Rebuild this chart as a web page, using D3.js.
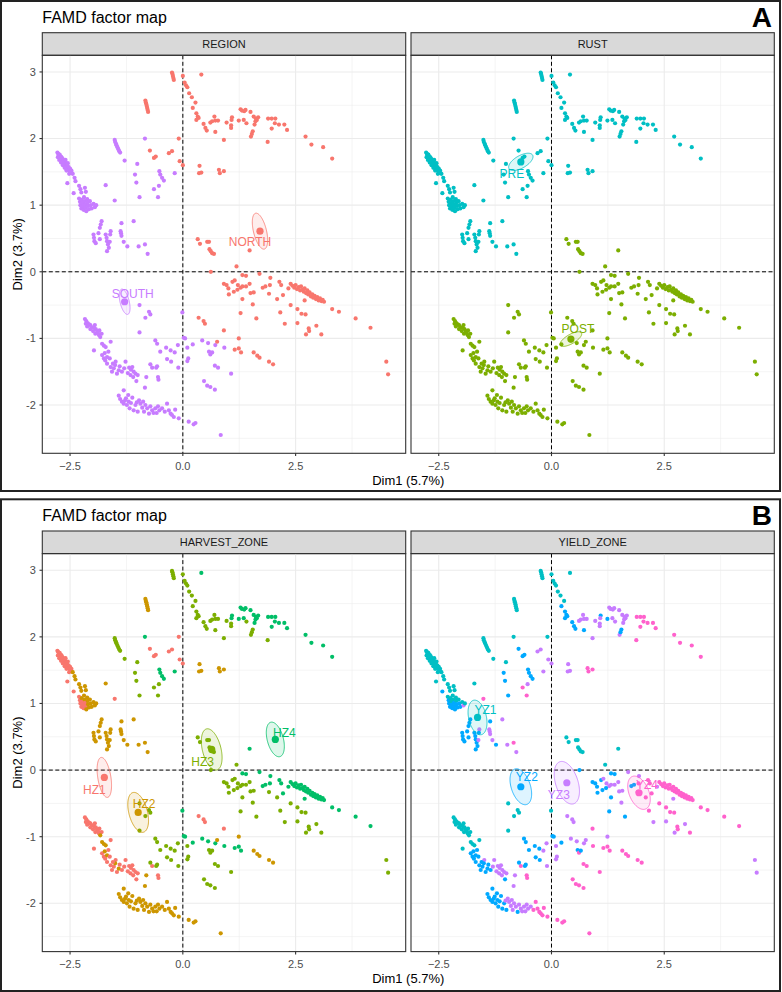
<!DOCTYPE html>
<html><head><meta charset="utf-8">
<script src="https://cdn.jsdelivr.net/npm/d3@7"></script>
<style>body{margin:0;background:#fff}svg text{font-family:"Liberation Sans",Arial,sans-serif}</style>
</head><body><svg id="c" width="782" height="992"></svg>
<script>
// ---------- DATA ----------
const N = "NORTH", S = "SOUTH", PR = "PRE", PO = "POST";
// each row: [Dim1, Dim2, REGION, RUST, HARVEST_ZONE #, YIELD_ZONE #]
const upperLeftArm = [
[-2.78,1.79,S,PR,1,1],[-2.76,1.77,S,PR,1,1],[-2.75,1.74,S,PR,1,1],[-2.73,1.76,S,PR,1,1],[-2.72,1.72,S,PR,1,1],[-2.71,1.70,S,PR,1,1],[-2.70,1.73,S,PR,1,1],[-2.69,1.68,S,PR,1,1],[-2.68,1.71,S,PR,1,1],[-2.67,1.66,S,PR,1,1],[-2.66,1.69,S,PR,1,1],[-2.65,1.64,S,PR,1,1],[-2.64,1.67,S,PR,1,1],[-2.63,1.62,S,PR,1,1],[-2.62,1.65,S,PR,1,1],[-2.61,1.60,S,PR,1,1],[-2.60,1.63,S,PR,1,1],[-2.59,1.58,S,PR,1,1],[-2.58,1.61,S,PR,1,1],[-2.57,1.56,S,PR,1,1],[-2.56,1.59,S,PR,1,1],[-2.55,1.54,S,PR,1,1],[-2.53,1.57,S,PR,1,1],[-2.52,1.52,S,PR,1,1],[-2.50,1.55,S,PR,1,1],[-2.49,1.50,S,PR,1,1],[-2.47,1.52,S,PR,1,1],[-2.46,1.48,S,PR,1,1],
[-2.77,1.72,S,PR,1,1],[-2.74,1.68,S,PR,1,1],[-2.70,1.64,S,PR,1,1],[-2.66,1.60,S,PR,1,1],[-2.62,1.56,S,PR,1,1],[-2.58,1.52,S,PR,1,1],[-2.52,1.47,S,PR,1,1],[-2.60,1.68,S,PR,1,1],[-2.55,1.63,S,PR,1,1],
[-2.56,1.33,S,PR,1,1],[-2.42,1.18,S,PR,1,2],
[-2.44,1.47,S,PR,2,1],[-2.40,1.41,S,PR,2,1],[-2.38,1.36,S,PR,2,1],[-2.30,1.29,S,PR,2,1],[-2.27,1.24,S,PR,2,1],[-2.25,1.19,S,PR,2,1],[-2.17,1.26,S,PR,2,1],[-2.15,1.20,S,PR,2,1]
];
const upperLeftClump = [
[-2.30,1.10,S,PR,1,1],[-2.28,1.05,S,PR,1,2],[-2.27,1.00,S,PR,1,2],[-2.25,0.95,S,PR,1,2],[-2.24,1.08,S,PR,2,1],[-2.22,1.03,S,PR,1,1],[-2.21,0.98,S,PR,1,2],[-2.20,0.93,S,PR,1,2],[-2.19,1.12,S,PR,2,1],[-2.18,1.06,S,PR,2,1],[-2.16,1.01,S,PR,1,2],[-2.15,0.96,S,PR,1,2],[-2.14,0.91,S,PR,2,2],[-2.12,1.09,S,PR,2,1],[-2.11,1.04,S,PR,2,1],[-2.10,0.99,S,PR,2,2],[-2.08,0.94,S,PR,2,2],[-2.06,1.06,S,PR,2,1],[-2.04,1.00,S,PR,2,2],[-2.02,0.95,S,PR,2,2],[-1.98,1.02,S,PR,2,1],[-1.95,0.97,S,PR,2,3],[-1.92,1.00,S,PR,2,1]
];
const midLeftArms = [
[-1.51,1.98,S,PR,3,1],[-1.50,1.95,S,PR,3,1],[-1.48,1.92,S,PR,3,1],[-1.47,1.90,S,PR,3,1],[-1.45,1.87,S,PR,3,1],[-1.43,1.84,S,PR,3,1],[-1.41,1.81,S,PR,3,1],[-1.39,1.79,S,PR,3,1],[-1.29,1.67,S,PR,3,1],
[-1.71,1.30,S,PR,2,1],[-1.51,1.07,S,PR,1,4]
];
const topArc = [
[-0.83,2.57,N,PR,2,1],[-0.82,2.54,N,PR,2,1],[-0.81,2.52,N,PR,2,1],[-0.80,2.49,N,PR,2,1],[-0.79,2.46,N,PR,2,1],[-0.78,2.43,N,PR,2,1],[-0.77,2.40,N,PR,2,1],
[-0.24,2.99,N,PR,3,1],[-0.23,2.97,N,PR,3,1],[-0.22,2.94,N,PR,3,1],[-0.21,2.91,N,PR,3,1],[-0.20,2.88,N,PR,3,1],
[0.41,2.96,N,PR,4,1],
[0.00,2.94,N,PR,3,1],[0.04,2.84,N,PR,3,1],[0.07,2.80,N,PR,3,1],[0.10,2.77,N,PR,3,1],[0.14,2.68,N,PR,3,1],[0.20,2.62,N,PR,3,1],[0.28,2.54,N,PR,3,1],[0.22,2.46,N,PR,3,2],[0.30,2.38,N,PR,3,2],[0.33,2.33,N,PR,3,2],[0.30,2.28,N,PR,3,2],[0.35,2.31,N,PR,3,2],
[0.46,2.22,N,PR,3,2],[0.50,2.16,N,PR,3,2],[0.53,2.12,N,PR,3,2],[0.61,2.24,N,PR,3,3],[0.65,2.26,N,PR,3,3],[0.70,2.33,N,PR,3,3],[0.72,2.27,N,PR,3,3],[0.78,2.27,N,PR,3,3],[0.72,2.10,N,PR,3,2],[0.91,1.98,N,PR,3,3]
];
const upperRight = [
[1.09,2.32,N,PR,4,2],[1.08,2.28,N,PR,4,3],[1.28,2.44,N,PR,4,3],[1.31,2.42,N,PR,4,3],[1.36,2.41,N,PR,4,3],[1.39,2.43,N,PR,4,3],[1.50,2.40,N,PR,4,3],[1.24,2.27,N,PR,4,2],[1.35,2.28,N,PR,4,3],[1.57,2.33,N,PR,4,3],[1.61,2.26,N,PR,4,3],[1.64,2.28,N,PR,4,3],[1.59,2.21,N,PR,4,3],[1.67,2.32,N,PR,4,3],[1.62,2.30,N,PR,4,3],
[0.97,2.24,N,PR,3,3],[1.07,2.20,N,PR,3,3],[1.07,2.16,N,PR,3,3],[1.55,2.11,N,PR,3,2],[1.51,2.03,N,PR,3,3],[1.53,2.07,N,PR,3,2],[1.41,2.23,N,PR,3,3],
[1.89,2.30,N,PR,4,4],[1.97,2.30,N,PR,4,4],[2.05,2.30,N,PR,4,4],[1.97,2.15,N,PR,4,4],[2.04,2.23,N,PR,4,4],[2.13,2.21,N,PR,4,4],[2.25,2.21,N,PR,4,4],[2.31,2.13,N,PR,4,4],[2.72,2.03,N,PR,4,4],[2.85,1.91,N,PR,4,4],[3.11,1.87,N,PR,4,4],[3.31,1.70,N,PR,4,4],[1.88,1.95,N,PR,3,4]
];
const upperMiddle = [
[-0.84,2.00,S,PR,4,1],[-0.73,1.82,N,PR,1,2],[-0.64,1.71,N,PR,1,2],[-0.60,1.73,N,PR,1,2],[-0.31,1.78,N,PR,1,3],[-0.24,1.81,N,PR,1,3],[-0.09,2.00,N,PR,1,1],[-0.07,1.66,N,PR,1,3],[0.00,1.60,N,PR,1,3],
[-1.01,1.62,S,PR,3,1],[-1.06,1.46,S,PR,3,2],[-1.03,1.34,S,PR,3,2],[-0.96,1.12,S,PR,3,2],
[-0.52,1.51,S,PR,4,2],[-0.50,1.46,S,PR,4,2],[-0.46,1.41,S,PR,4,2],[-0.42,1.37,S,PR,4,2],
[-0.53,1.29,S,PR,3,3],[-0.64,1.24,S,PR,3,4],[-0.55,1.12,S,PR,3,4],[-0.18,1.48,S,PR,4,3],
[0.37,1.59,N,PR,2,3],[0.36,1.48,N,PR,2,3],[0.41,1.49,N,PR,2,3],[0.80,1.53,N,PR,2,4],[0.82,1.48,N,PR,2,4],[0.91,1.51,N,PR,2,4]
];
const leftBand = [
[-1.80,0.76,S,PR,2,2],[-1.82,0.71,S,PR,2,2],[-1.84,0.66,S,PR,2,2],[-1.98,0.56,S,PR,2,2],[-1.97,0.51,S,PR,2,2],[-1.96,0.46,S,PR,2,2],[-1.93,0.43,S,PR,2,2],[-1.87,0.58,S,PR,2,2],[-1.84,0.49,S,PR,2,2],[-1.71,0.56,S,PR,2,2],[-1.69,0.51,S,PR,2,2],[-1.68,0.46,S,PR,2,2],[-1.66,0.41,S,PR,2,2],[-1.64,0.36,S,PR,2,2],[-1.68,0.31,S,PR,2,2],[-1.60,0.61,S,PR,2,3],[-1.61,0.56,S,PR,2,2],[-1.62,0.45,S,PR,2,3],
[-1.36,0.73,S,PR,2,2],[-1.38,0.61,S,PR,2,3],[-1.37,0.58,S,PR,2,3],[-1.36,0.54,S,PR,2,3],[-1.31,0.45,S,PR,2,3],[-1.23,0.38,S,PR,2,2],[-1.09,0.76,S,PR,2,3],[-0.98,0.38,S,PR,2,3],[-0.84,0.41,S,PR,2,4],[-0.78,0.27,S,PR,2,3]
];
const centreNorth = [
[0.33,0.49,N,PO,3,1],[0.38,0.42,N,PO,3,1],[0.54,0.45,N,PO,3,1],[0.58,0.45,N,PO,3,1],[0.59,0.34,N,PO,3,1],[0.62,0.31,N,PO,3,1],[0.65,0.28,N,PO,3,1],[0.69,0.27,N,PO,3,1],[1.19,0.08,N,PO,3,1],[1.48,0.32,N,PO,4,1],[0.62,0.00,N,PO,3,2]
];
const centreSouth = [
[-0.96,-0.50,S,PO,3,1],[-0.75,-0.60,S,PO,3,1],[-0.72,-0.64,S,PO,3,1],[-0.83,-0.69,S,PO,3,1],[-0.96,-0.91,S,PO,3,1],[-0.01,-0.61,S,PO,4,1]
];
const lowerLeftArm = [
[-2.17,-0.71,S,PO,1,1],[-2.14,-0.74,S,PO,1,1],[-2.11,-0.77,S,PO,1,1],[-2.08,-0.79,S,PO,1,1],[-2.05,-0.80,S,PO,1,1],[-2.02,-0.83,S,PO,1,1],[-1.97,-0.84,S,PO,1,1],[-1.93,-0.86,S,PO,1,1],[-1.90,-0.89,S,PO,1,1],[-1.85,-0.88,S,PO,1,1],[-1.80,-0.93,S,PO,1,1],[-1.86,-0.95,S,PO,1,1],[-1.94,-0.93,S,PO,1,1],[-2.12,-0.82,S,PO,1,1],[-1.99,-0.89,S,PO,1,1],
[-2.15,-0.78,S,PO,1,1],[-2.05,-0.86,S,PO,1,1],[-1.95,-0.80,S,PO,1,1],[-1.88,-0.92,S,PO,1,1],[-1.83,-0.98,S,PO,2,1],
[-1.79,-1.08,S,PO,2,1],[-1.75,-1.11,S,PO,2,1],[-1.71,-1.13,S,PO,2,1],[-1.60,-1.05,S,PO,1,1],[-1.97,-1.18,S,PO,1,1],
[-1.79,-1.25,S,PO,1,2],[-1.75,-1.30,S,PO,1,2],[-1.72,-1.33,S,PO,1,2],[-1.68,-1.38,S,PO,1,2],[-1.73,-1.22,S,PO,2,2],[-1.68,-1.28,S,PO,2,2],[-1.60,-1.43,S,PO,1,2],[-1.57,-1.50,S,PO,1,2],[-1.53,-1.45,S,PO,1,2],[-1.49,-1.35,S,PO,1,3],[-1.46,-1.53,S,PO,1,2],[-1.42,-1.48,S,PO,2,2],[-1.50,-1.40,S,PO,2,2],
[-1.65,-1.20,S,PO,1,2],[-1.62,-1.30,S,PO,1,2],[-1.55,-1.38,S,PO,1,2],[-1.40,-1.42,S,PO,1,2],[-1.35,-1.50,S,PO,1,2],[-1.30,-1.45,S,PO,1,3],[-1.22,-1.52,S,PO,1,3],[-1.16,-1.55,S,PO,1,3],[-1.10,-1.58,S,PO,1,3],[-1.00,-1.55,S,PO,1,3],
[-1.27,-1.35,S,PO,1,3],[-1.19,-1.44,S,PO,1,3],[-1.15,-1.47,S,PO,1,3],[-1.12,-1.43,S,PO,1,3],[-1.09,-1.50,S,PO,1,3],[-1.05,-1.53,S,PO,1,3],[-1.03,-1.64,S,PO,1,2],[-0.68,-1.44,S,PO,1,4],[-0.55,-1.58,S,PO,1,4],[-0.54,-1.62,S,PO,1,4],
[-0.81,-1.58,S,PO,2,3],[-0.84,-1.74,S,PO,2,3]
];
const bottomArc = [
[-1.31,-1.78,S,PO,2,2],[-1.21,-1.85,S,PO,2,2],[-1.12,-1.89,S,PO,2,2],[-1.39,-1.91,S,PO,2,2],[-1.35,-1.95,S,PO,2,2],[-1.31,-1.98,S,PO,2,2],[-1.28,-1.93,S,PO,2,2],[-1.24,-2.00,S,PO,2,2],[-1.18,-2.05,S,PO,2,2],[-1.15,-1.97,S,PO,2,2],[-1.09,-2.08,S,PO,2,2],[-1.05,-2.00,S,PO,2,2],[-1.00,-2.10,S,PO,2,2],[-0.97,-1.93,S,PO,2,3],[-0.94,-1.98,S,PO,2,3],[-0.90,-2.04,S,PO,2,3],[-0.86,-2.10,S,PO,2,3],[-0.83,-2.00,S,PO,2,3],[-0.79,-2.05,S,PO,2,3],[-0.75,-2.13,S,PO,2,2],[-0.68,-2.08,S,PO,2,3],[-0.65,-2.12,S,PO,2,3],[-0.61,-2.05,S,PO,2,3],[-0.55,-2.02,S,PO,2,3],[-0.52,-2.08,S,PO,2,3],[-0.35,-1.98,S,PO,2,4],[-0.31,-2.08,S,PO,2,4],[-0.27,-2.13,S,PO,2,4],[-0.24,-2.15,S,PO,2,4],[-0.17,-2.07,S,PO,2,4],[-0.09,-2.20,S,PO,2,4],[0.13,-2.25,S,PO,2,4],[0.24,-2.29,S,PO,2,4],[0.28,-2.27,S,PO,2,4],[0.84,-2.45,S,PO,2,4],
[-1.42,-1.86,S,PO,2,2],[-1.26,-1.90,S,PO,2,2],[-1.20,-1.95,S,PO,2,2],[-1.02,-1.96,S,PO,2,3],[-0.88,-1.95,S,PO,2,3],[-0.72,-2.02,S,PO,2,3],[-0.58,-2.12,S,PO,2,3],[-0.46,-2.05,S,PO,2,3],[-0.40,-2.10,S,PO,2,4],[-0.20,-2.18,S,PO,2,4]
];
const lowerMiddle = [
[-0.61,-1.03,S,PO,3,2],[-0.57,-1.08,S,PO,3,2],[-0.50,-1.20,S,PO,3,2],[-0.37,-1.14,S,PO,3,2],[-0.27,-1.18,S,PO,3,2],[-0.18,-1.21,S,PO,3,3],[-0.11,-1.10,S,PO,3,3],[-0.35,-1.31,S,PO,3,2],[-0.26,-1.35,S,PO,3,2],[-0.10,-1.44,S,PO,3,3],[-0.59,-1.44,S,PO,3,2],[-0.57,-1.42,S,PO,3,2],[-0.72,-1.39,S,PO,3,2],[0.10,-1.14,S,PO,3,3],[0.12,-1.30,S,PO,3,3],[0.10,-1.34,S,PO,3,3],[0.58,-1.20,S,PO,3,2],[0.61,-1.24,S,PO,3,4],[0.65,-1.21,S,PO,3,2],[0.71,-1.41,S,PO,3,4],[0.78,-1.44,S,PO,3,4],[1.07,-1.53,S,PO,3,4],[0.47,-1.64,S,PO,3,4],[0.54,-1.71,S,PO,3,4],[0.61,-1.73,S,PO,3,4],[0.71,-1.77,S,PO,3,4],
[0.02,-0.99,S,PO,4,2],[0.05,-1.00,S,PO,4,2],[0.22,-1.09,S,PO,4,2],[0.43,-1.03,S,PO,4,3],[0.56,-1.07,S,PO,4,3],[0.72,-1.10,S,PO,4,3],[0.92,-1.14,S,PO,4,4],[1.15,-1.17,N,PO,4,4],[1.29,-1.21,N,PO,4,4],[1.24,-1.15,N,PO,4,4],
[0.35,-0.69,N,PO,1,3],[0.46,-0.74,N,PO,1,3],[0.49,-0.78,N,PO,1,3],[0.91,-0.88,N,PO,1,4],
[0.76,-1.05,N,PO,2,3],[1.24,-1.00,N,PO,2,3],[1.57,-1.21,N,PO,2,4],[1.65,-1.26,N,PO,2,4],[1.70,-1.29,N,PO,2,4],[1.91,-1.35,N,PO,2,4],[2.00,-1.39,N,PO,2,4]
];
const rightBand = [
[0.91,-0.18,N,PO,3,2],[0.97,-0.20,N,PO,3,2],[1.01,-0.25,N,PO,3,2],[1.10,-0.15,N,PO,3,2],[1.15,-0.13,N,PO,3,3],[1.22,-0.20,N,PO,3,3],[1.28,-0.24,N,PO,3,3],[1.32,-0.22,N,PO,3,3],[1.40,-0.22,N,PO,3,3],[1.48,-0.18,N,PO,3,3],[1.21,-0.27,N,PO,3,2],[1.13,-0.30,N,PO,3,2],[1.02,-0.34,N,PO,3,2],[1.32,-0.41,N,PO,3,2],[1.50,-0.32,N,PO,3,3],[1.57,-0.31,N,PO,3,3],[1.55,-0.49,N,PO,3,3],[1.63,-0.70,N,PO,3,2],[1.28,-0.62,N,PO,3,2],[1.91,-0.33,N,PO,3,4],[2.09,-0.41,N,PO,3,4],[2.16,-0.61,N,PO,3,4],[2.26,-0.78,N,PO,3,3],[2.39,-0.50,N,PO,3,4],[2.54,-0.56,N,PO,3,4],[2.63,-0.63,N,PO,3,4],[2.72,-0.64,N,PO,3,4],[2.54,-0.77,N,PO,3,3],[2.79,-0.85,N,PO,3,4],[2.80,-0.89,N,PO,3,4],[2.96,-0.81,N,PO,3,3],[2.73,-0.94,N,PO,3,3],[3.07,-0.94,N,PO,3,4],[4.51,-1.35,N,PO,3,3],[4.55,-1.54,N,PO,3,3],
[1.32,-0.05,N,PO,4,2],[1.40,-0.06,N,PO,4,2],[1.70,-0.03,N,PO,4,3],[1.94,-0.09,N,PO,4,3],[1.77,-0.24,N,PO,4,2],[1.83,-0.22,N,PO,4,2],[1.93,-0.20,N,PO,4,4],[2.14,-0.15,N,PO,4,4],[2.18,-0.20,N,PO,4,4],[2.22,-0.35,N,PO,4,4],[2.34,-0.25,N,PO,4,3],
[2.39,-0.18,N,PO,4,4],[2.43,-0.21,N,PO,4,4],[2.47,-0.24,N,PO,4,4],[2.50,-0.20,N,PO,4,4],[2.53,-0.26,N,PO,4,4],[2.57,-0.23,N,PO,4,4],[2.60,-0.28,N,PO,4,4],[2.62,-0.22,N,PO,4,4],[2.65,-0.27,N,PO,4,4],[2.68,-0.30,N,PO,4,4],[2.70,-0.25,N,PO,4,4],[2.73,-0.32,N,PO,4,4],[2.76,-0.28,N,PO,4,4],[2.78,-0.34,N,PO,4,4],[2.81,-0.31,N,PO,4,4],[2.84,-0.37,N,PO,4,4],[2.87,-0.34,N,PO,4,4],[2.89,-0.39,N,PO,4,4],[2.92,-0.36,N,PO,4,4],[2.95,-0.41,N,PO,4,4],[2.98,-0.38,N,PO,4,4],[3.01,-0.43,N,PO,4,4],[3.04,-0.40,N,PO,4,4],[3.07,-0.44,N,PO,4,4],[3.10,-0.42,N,PO,4,4],[3.13,-0.45,N,PO,4,4],[2.70,-0.43,N,PO,4,3],
[3.31,-0.56,N,PO,4,4],[3.46,-0.60,N,PO,4,4],[3.83,-0.70,N,PO,4,4],[4.16,-0.84,N,PO,4,4]
];

// group means with confidence-ellipse half-widths (Dim1, Dim2) and tilt correlation
// [facet, group, meanDim1, meanDim2, halfDim1, halfDim2, rho]
const groupMeans = [
["REGION","NORTH",1.71,0.61,0.17,0.27,-0.5],
["REGION","SOUTH",-1.29,-0.45,0.12,0.19,-0.5],
["RUST","PRE",-0.68,1.65,0.27,0.13,0.6],
["RUST","POST",0.43,-1.01,0.24,0.11,0.7],
["HARVEST_ZONE","HZ1",-1.74,-0.11,0.16,0.30,-0.4],
["HARVEST_ZONE","HZ2",-0.99,-0.635,0.23,0.30,-0.4],
["HARVEST_ZONE","HZ3",0.64,0.31,0.23,0.31,-0.4],
["HARVEST_ZONE","HZ4",2.05,0.46,0.20,0.26,-0.4],
["YIELD_ZONE","YZ1",-1.64,0.79,0.21,0.26,-0.3],
["YIELD_ZONE","YZ2",-0.68,-0.25,0.24,0.27,-0.4],
["YIELD_ZONE","YZ3",0.34,-0.19,0.28,0.32,-0.4],
["YIELD_ZONE","YZ4",1.94,-0.34,0.25,0.25,-0.4]
];
const xTicks = [-2.5, 0, 2.5];
const xMinor = [-1.25, 1.25, 3.75];
const yTicks = [-2, -1, 0, 1, 2, 3];
const yMinor = [-2.5, -1.5, -0.5, 0.5, 1.5, 2.5];
const xTitle = "Dim1 (5.7%)", yTitle = "Dim2 (3.7%)", plotTitle = "FAMD factor map";

// ---------- STYLE ----------
const palA = {NORTH:"#F8766D", POST:"#7CAE00", PRE:"#00BFC4", SOUTH:"#C77CFF"};
const palB = {HZ1:"#F8766D", HZ2:"#CD9600", HZ3:"#7CAE00", HZ4:"#00BE67", YZ1:"#00BFC4", YZ2:"#00A9FF", YZ3:"#C77CFF", YZ4:"#FF61CC"};
const labelNudge = {NORTH:[-10,11], SOUTH:[8,-8], PRE:[-9,12], POST:[7,-10], HZ1:[-10,12], HZ2:[6,-9], HZ3:[-9,12], HZ4:[9,-7], YZ1:[8,-8], YZ2:[6,-10], YZ3:[-8,12], YZ4:[8,-8]};

const individuals = [].concat(upperLeftArm, upperLeftClump, midLeftArms, topArc, upperRight, upperMiddle, leftBand, centreNorth, centreSouth, lowerLeftArm, bottomArc, lowerMiddle, rightBand);

const panels = [
  {letter:"A", top:0, pal:palA, facets:[
    {name:"REGION", grp:r=>r[2]}, {name:"RUST", grp:r=>r[3]}]},
  {letter:"B", top:498.3, pal:palB, facets:[
    {name:"HARVEST_ZONE", grp:r=>"HZ"+r[4]}, {name:"YIELD_ZONE", grp:r=>"YZ"+r[5]}]}
];
const facetX = [[42.3, 405.7], [411, 774.3]];
const L = {stripTop:32.7, plotTop:55.3, plotBottom:453.3, titleY:23, xLab:466, xTitleY:480};

const svg = d3.select("#c");
svg.append("rect").attr("width",782).attr("height",992).attr("fill","#fff");

panels.forEach((P, pi) => {
  const g = svg.append("g").attr("transform", `translate(0,${P.top})`);
  g.append("rect").attr("x",1).attr("y",1).attr("width",779).attr("height", pi===0?490:491.7)
    .attr("fill","none").attr("stroke","#222").attr("stroke-width",2);
  g.append("text").attr("x",42.3).attr("y",L.titleY).attr("font-size",16).attr("fill","#000").text(plotTitle);
  g.append("text").attr("x",772).attr("y",26.7).attr("text-anchor","end").attr("font-size",28)
    .attr("font-weight","bold").attr("fill","#000").text(P.letter);

  const y = d3.scaleLinear().domain([-2.725, 3.25]).range([L.plotBottom, L.plotTop]);

  P.facets.forEach((F, fi) => {
    const [x0, x1] = facetX[fi];
    const x = d3.scaleLinear().domain([-3.115, 4.94]).range([x0, x1]);
    const fg = g.append("g");
    fg.append("rect").attr("x",x0).attr("y",L.stripTop).attr("width",x1-x0).attr("height",L.plotTop-L.stripTop)
      .attr("fill","#D9D9D9").attr("stroke","#333").attr("stroke-width",1.1);
    fg.append("text").attr("x",(x0+x1)/2).attr("y",(L.stripTop+L.plotTop)/2).attr("dy","0.35em")
      .attr("text-anchor","middle").attr("font-size",11).attr("fill","#1A1A1A").text(F.name);
    const grid = fg.append("g").attr("stroke","#EBEBEB");
    grid.selectAll(".vmin").data(xMinor).join("line").attr("x1",d=>x(d)).attr("x2",d=>x(d))
      .attr("y1",L.plotTop).attr("y2",L.plotBottom).attr("stroke-width",0.55);
    grid.selectAll(".hmin").data(yMinor).join("line").attr("y1",d=>y(d)).attr("y2",d=>y(d))
      .attr("x1",x0).attr("x2",x1).attr("stroke-width",0.55);
    grid.selectAll(".vmaj").data(xTicks).join("line").attr("x1",d=>x(d)).attr("x2",d=>x(d))
      .attr("y1",L.plotTop).attr("y2",L.plotBottom).attr("stroke-width",1.1);
    grid.selectAll(".hmaj").data(yTicks).join("line").attr("y1",d=>y(d)).attr("y2",d=>y(d))
      .attr("x1",x0).attr("x2",x1).attr("stroke-width",1.1);
    fg.append("line").attr("x1",x(0)).attr("x2",x(0)).attr("y1",L.plotTop).attr("y2",L.plotBottom)
      .attr("stroke","#000").attr("stroke-width",1).attr("stroke-dasharray","4,2.5");
    fg.append("line").attr("y1",y(0)).attr("y2",y(0)).attr("x1",x0).attr("x2",x1)
      .attr("stroke","#000").attr("stroke-width",1).attr("stroke-dasharray","4,2.5");
    fg.append("g").selectAll("circle").data(individuals).join("circle")
      .attr("cx",d=>x(d[0])).attr("cy",d=>y(d[1])).attr("r",2.1)
      .attr("fill",d=>P.pal[F.grp(d)]);
    const means = groupMeans.filter(m=>m[0]===F.name);
    const line = d3.line().x(p=>x(p[0])).y(p=>y(p[1])).curve(d3.curveLinearClosed);
    means.forEach(m => {
      const [, name, mx, my, ax, ay, rho] = m;
      const phi = Math.asin(rho);
      const pts = d3.range(0, 2*Math.PI, Math.PI/60).map(t=>[mx+ax*Math.cos(t), my+ay*Math.sin(t+phi)]);
      const col = P.pal[name];
      fg.append("path").attr("d", line(pts)).attr("fill",col).attr("fill-opacity",0.13)
        .attr("stroke",col).attr("stroke-width",0.8);
      fg.append("circle").attr("cx",x(mx)).attr("cy",y(my)).attr("r",3.6).attr("fill",col);
      const nd = labelNudge[name];
      fg.append("text").attr("x",x(mx)+nd[0]).attr("y",y(my)+nd[1]).attr("dy","0.35em")
        .attr("text-anchor","middle").attr("font-size",12).attr("fill",col).text(name);
    });
    fg.append("rect").attr("x",x0).attr("y",L.plotTop).attr("width",x1-x0).attr("height",L.plotBottom-L.plotTop)
      .attr("fill","none").attr("stroke","#333").attr("stroke-width",1.1);
    const xa = fg.append("g");
    xa.selectAll("line").data(xTicks).join("line").attr("x1",d=>x(d)).attr("x2",d=>x(d))
      .attr("y1",L.plotBottom).attr("y2",L.plotBottom+2.8).attr("stroke","#333").attr("stroke-width",1.1);
    xa.selectAll("text").data(xTicks).join("text").attr("x",d=>x(d)).attr("y",L.xLab).attr("dy","0.35em")
      .attr("text-anchor","middle").attr("font-size",11).attr("fill","#4D4D4D").text(d=>d3.format(".1f")(d));
    if (fi === 0) {
      const ya = fg.append("g");
      ya.selectAll("line").data(yTicks).join("line").attr("y1",d=>y(d)).attr("y2",d=>y(d))
        .attr("x1",x0-2.8).attr("x2",x0).attr("stroke","#333").attr("stroke-width",1.1);
      ya.selectAll("text").data(yTicks).join("text").attr("x",x0-6.5).attr("y",d=>y(d)).attr("dy","0.35em")
        .attr("text-anchor","end").attr("font-size",11).attr("fill","#4D4D4D").text(d=>d);
    }
  });
  g.append("text").attr("x",(facetX[0][0]+facetX[1][1])/2).attr("y",L.xTitleY).attr("dy","0.35em")
    .attr("text-anchor","middle").attr("font-size",13).attr("fill","#000").text(xTitle);
  g.append("text").attr("transform",`translate(17,${(L.plotTop+L.plotBottom)/2}) rotate(-90)`).attr("dy","0.35em")
    .attr("text-anchor","middle").attr("font-size",13).attr("fill","#000").text(yTitle);
});
</script></body></html>
